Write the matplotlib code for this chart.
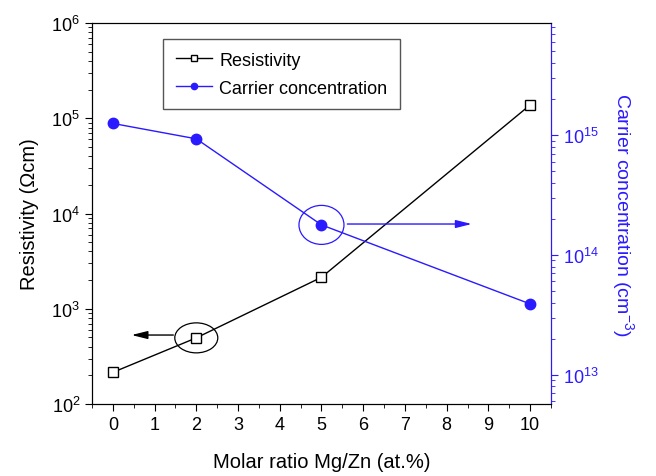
import matplotlib
matplotlib.use("Agg")
import matplotlib.pyplot as plt
import matplotlib.transforms as mtransforms
from matplotlib.patches import Ellipse
from matplotlib.ticker import LogLocator, MultipleLocator, NullFormatter

plt.rcParams['font.family'] = ['Liberation Sans', 'DejaVu Sans']
plt.rcParams['mathtext.fontset'] = 'custom'
plt.rcParams['mathtext.rm'] = 'Liberation Sans'
plt.rcParams['mathtext.it'] = 'Liberation Sans:italic'

# data
ratio = [0, 2, 5, 10]
resistivity = [215, 495, 2140, 1.38e5]          # Ohm cm
carrier = [1.25e15, 9.3e14, 1.78e14, 3.9e13]    # cm^-3

blue = '#2a1aff'

fig = plt.figure(figsize=(6.56, 4.77), dpi=100)
ax = fig.add_axes([0.1402, 0.1509, 0.6997, 0.7987])
ax2 = ax.twinx()

l1, = ax.plot(ratio, resistivity, color='black', lw=1, marker='s', ms=6.5,
              mfc='white', mec='black', mew=1, label='Resistivity')
l2, = ax2.plot(ratio, carrier, color=blue, lw=1, marker='o', ms=7.5,
               mfc=blue, mec=blue, label='Carrier concentration')

ax.set_yscale('log')
ax2.set_yscale('log')
ax.set_xlim(-0.5, 10.5)
ax.set_ylim(1e2, 1e6)
ax2.set_ylim(5.7e12, 8.6e15)

ax.xaxis.set_major_locator(MultipleLocator(1))
ax.xaxis.set_minor_locator(MultipleLocator(0.5))
for a in (ax, ax2):
    a.yaxis.set_major_locator(LogLocator(base=10, numticks=10))
    a.yaxis.set_minor_locator(LogLocator(base=10, subs=range(2, 10), numticks=20))
    a.yaxis.set_minor_formatter(NullFormatter())

ax.tick_params(which='major', direction='out', length=5, labelsize=13, top=False)
ax.tick_params(which='minor', direction='out', length=3, top=False)
ax2.tick_params(which='major', direction='out', length=5, labelsize=13,
                colors=blue)
ax2.tick_params(which='minor', direction='out', length=3, colors=blue)
ax2.spines['right'].set_color(blue)

ax.set_xlabel('Molar ratio Mg/Zn (at.%)', fontsize=14.5, labelpad=14)
ax.set_ylabel('Resistivity (\u03a9cm)', fontsize=14.5, labelpad=9)
ax2.set_ylabel('Carrier concentration (cm$^{-3}$)', fontsize=14, color=blue,
               rotation=270, labelpad=27)

# ellipses round the pointed-out points, sized in inches
e1 = Ellipse((0, 0), 0.43, 0.30, fill=False, ec='black', lw=0.9,
             transform=fig.dpi_scale_trans + mtransforms.ScaledTranslation(
                 ratio[1], resistivity[1], ax.transData))
ax.add_artist(e1)
e2 = Ellipse((0, 0), 0.45, 0.39, fill=False, ec=blue, lw=0.9,
             transform=fig.dpi_scale_trans + mtransforms.ScaledTranslation(
                 ratio[2], carrier[2], ax2.transData))
ax2.add_artist(e2)

ax.annotate('', xy=(0.45, 530), xytext=(1.45, 530),
            arrowprops=dict(arrowstyle='-|>,head_length=0.8,head_width=0.2',
                            color='black', lw=1, shrinkA=0, shrinkB=0,
                            mutation_scale=12))
ax2.annotate('', xy=(8.6, 1.81e14), xytext=(5.62, 1.81e14),
             arrowprops=dict(arrowstyle='-|>,head_length=0.8,head_width=0.2',
                             color=blue, lw=1, shrinkA=0, shrinkB=0,
                             mutation_scale=12))

leg = ax2.legend([l1, l2], ['Resistivity', 'Carrier concentration'],
                 loc='upper left', bbox_to_anchor=(0.155, 0.958),
                 borderaxespad=0, fontsize=13, fancybox=False,
                 edgecolor='#555555', framealpha=1, handlelength=2.0,
                 borderpad=0.7, labelspacing=0.6, handletextpad=0.4,
                 markerscale=0.6)
leg.get_frame().set_linewidth(1)

fig.savefig('out.png', dpi=100)
